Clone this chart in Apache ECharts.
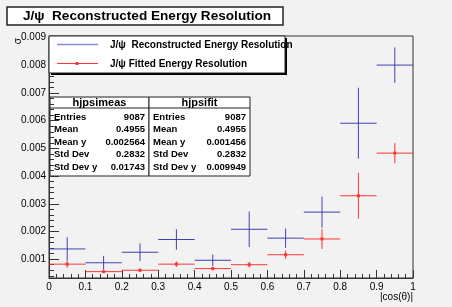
<!DOCTYPE html>
<html>
<head>
<meta charset="utf-8">
<script src="https://cdn.jsdelivr.net/npm/echarts@6/dist/echarts.min.js"></script>
<style>
  html, body { margin: 0; padding: 0; background: #f2f2f2; }
  #main { width: 452px; height: 307px; }
</style>
</head>
<body>
<div id="main"></div>
<script>
// bins in |cos(theta)|
const binLow = [0, 0.1, 0.2, 0.3, 0.4, 0.5, 0.6, 0.7, 0.8, 0.9];
const binWidth = 0.1;

// reconstructed (hjpsimeas)
const measVal = [0.00137, 0.00087, 0.00125, 0.00171, 0.00096, 0.00208, 0.00176, 0.0027, 0.00591, 0.00801];
const measErr = [0.00042, 0.00025, 0.00032, 0.00037, 0.00021, 0.00064, 0.00035, 0.00056, 0.00128, 0.00064];

// fitted (hjpsifit)
const fitVal = [0.00082, 0.00055, 0.0006, 0.00082, 0.00066, 0.0008, 0.00116, 0.00173, 0.00329, 0.00483];
const fitErr = [0.00013, 0.00005, 0.00006, 0.0001, 0.00007, 0.0001, 0.00015, 0.00036, 0.00083, 0.00037];

const yTicks = [0.001, 0.002, 0.003, 0.004, 0.005, 0.006, 0.007, 0.008, 0.009];
const xTickLabels = ["0", "0.1", "0.2", "0.3", "0.4", "0.5", "0.6", "0.7", "0.8", "0.9", "1"];

const statLabels = ["Entries", "Mean", "Mean y", "Std Dev", "Std Dev y"];
const measStats = ["9087", "0.4955", "0.002564", "0.2832", "0.01743"];
const fitStats = ["9087", "0.4955", "0.001456", "0.2832", "0.009949"];

const blue = "#4040b4";
const red = "#ff3535";
const font = "'Liberation Sans', Arial, sans-serif";

// minor y ticks, 5 per 0.001
const yMinor = [];
for (let i = 2; i <= 45; i++) {
  if (i % 5 !== 0) yMinor.push(+(i * 0.0002).toFixed(4));
}

function toData(vals, errs) {
  return vals.map((v, i) => [binLow[i], binLow[i] + binWidth, v, errs[i]]);
}

function crossRenderer(color, marker) {
  return function (params, api) {
    const lo = api.value(0), hi = api.value(1), y = api.value(2), e = api.value(3);
    const xc = (lo + hi) / 2;
    const pl = api.coord([lo, y]), pr = api.coord([hi, y]);
    const pt = api.coord([xc, y + e]), pb = api.coord([xc, y - e]);
    const st = { stroke: color, lineWidth: 1 };
    const children = [
      { type: "line", shape: { x1: pl[0], y1: pl[1], x2: pr[0], y2: pr[1] }, style: st },
      { type: "line", shape: { x1: pt[0], y1: pt[1], x2: pb[0], y2: pb[1] }, style: st }
    ];
    if (marker) {
      const c = api.coord([xc, y]);
      children.push({ type: "rect", shape: { x: c[0] - 1.5, y: c[1] - 1.5, width: 3, height: 3 }, style: { fill: color } });
    }
    return { type: "group", children: children };
  };
}

// stats box graphic
function statsBox(left, width, name, values) {
  const top = 97, h = 79;
  const els = [
    { type: "rect", shape: { x: left, y: top, width: width, height: h }, style: { fill: "#fff", stroke: "#222", lineWidth: 1 } },
    { type: "line", shape: { x1: left, y1: top + 11, x2: left + width, y2: top + 11 }, style: { stroke: "#222", lineWidth: 1 } },
    { type: "text", style: { x: left + width / 2, y: top + 6, text: name, font: "bold 11px " + font, fill: "#000", textAlign: "center", textVerticalAlign: "middle" } }
  ];
  statLabels.forEach((lab, i) => {
    const yy = top + 20 + i * 12.5;
    els.push({ type: "text", style: { x: left + 4, y: yy, text: lab, font: "bold 9.5px " + font, fill: "#000", textVerticalAlign: "middle" } });
    els.push({ type: "text", style: { x: left + width - 4, y: yy, text: values[i], font: "bold 9.5px " + font, fill: "#000", textAlign: "right", textVerticalAlign: "middle" } });
  });
  return els;
}

const chart = echarts.init(document.getElementById("main"));
const option = {
  backgroundColor: "#f2f2f2",
  animation: false,
  grid: { left: 49, top: 36, width: 364, height: 242, show: true, borderColor: "#333", borderWidth: 1, backgroundColor: "transparent" },
  xAxis: {
    type: "value", min: 0, max: 1, interval: 0.1,
    axisLine: { lineStyle: { color: "#333" } },
    axisTick: { inside: true, length: 8, lineStyle: { color: "#333" } },
    minorTick: { show: true, splitNumber: 5, length: 4, lineStyle: { color: "#333" } },
    splitLine: { show: false },
    axisLabel: { color: "#000", fontFamily: font, fontSize: 10, margin: 4, formatter: (v) => xTickLabels[Math.round(v * 10)] },
    name: "|cos(θ)|", nameLocation: "end", nameGap: 0,
    nameTextStyle: { color: "#000", fontFamily: font, fontSize: 10, align: "right", verticalAlign: "top", padding: [14, 0, 0, 0] }
  },
  yAxis: [
    {
      type: "value", min: 0.00032, max: 0.00906,
      axisLine: { show: true, lineStyle: { color: "#333" } },
      axisTick: { show: true, inside: true, length: 10, customValues: yTicks, lineStyle: { color: "#333" } },
      splitLine: { show: false },
      axisLabel: { color: "#000", fontFamily: font, fontSize: 10, margin: 3, customValues: yTicks, formatter: (v) => v.toFixed(3) }
    },
    {
      type: "value", min: 0.00032, max: 0.00906, position: "left",
      axisLine: { show: false },
      axisTick: { show: true, inside: true, length: 5, customValues: yMinor, lineStyle: { color: "#333" } },
      axisLabel: { show: false },
      splitLine: { show: false }
    }
  ],
  series: [
    { name: "J/ψ  Reconstructed Energy Resolution", type: "custom", renderItem: crossRenderer(blue, false), data: toData(measVal, measErr), encode: { x: [0, 1], y: 2 }, z: 2 },
    { name: "J/ψ Fitted Energy Resolution", type: "custom", renderItem: crossRenderer(red, true), data: toData(fitVal, fitErr), encode: { x: [0, 1], y: 2 }, z: 3 }
  ],
  graphic: [
    // y axis title
    { type: "text", x: 18, y: 38, rotation: Math.PI / 2, style: { x: 0, y: 0, text: "σ", font: "10px " + font, fill: "#000", textAlign: "right", textVerticalAlign: "middle" }, z: 12 },
    // title
    { type: "rect", shape: { x: 7, y: 7, width: 276, height: 18 }, style: { fill: "#fff", stroke: "#222", lineWidth: 1.5 }, z: 10 },
    { type: "text", style: { x: 147, y: 16, text: "J/ψ  Reconstructed Energy Resolution", font: "bold 13.6px " + font, fill: "#000", textAlign: "center", textVerticalAlign: "middle" }, z: 11 },
    // legend
    { type: "rect", shape: { x: 51, y: 38, width: 236, height: 37 }, style: { fill: "#000" }, z: 10 },
    { type: "rect", shape: { x: 49, y: 36, width: 236, height: 37 }, style: { fill: "#fff", stroke: "#222", lineWidth: 1 }, z: 11 },
    { type: "line", shape: { x1: 57, y1: 44.5, x2: 98, y2: 44.5 }, style: { stroke: "#8c8cdc", lineWidth: 1.5 }, z: 12 },
    { type: "text", style: { x: 110, y: 45, text: "J/ψ  Reconstructed Energy Resolution", font: "bold 10px " + font, fill: "#000", textVerticalAlign: "middle" }, z: 12 },
    { type: "line", shape: { x1: 57, y1: 63.5, x2: 98, y2: 63.5 }, style: { stroke: red, lineWidth: 1 }, z: 12 },
    { type: "rect", shape: { x: 75.5, y: 62, width: 3, height: 3 }, style: { fill: red }, z: 12 },
    { type: "text", style: { x: 110, y: 64, text: "J/ψ Fitted Energy Resolution", font: "bold 10px " + font, fill: "#000", textVerticalAlign: "middle" }, z: 12 },
    // stats boxes
    { type: "group", z: 10, children: statsBox(50, 99, "hjpsimeas", measStats) },
    { type: "group", z: 10, children: statsBox(149, 101, "hjpsifit", fitStats) }
  ]
};
chart.setOption(option);
</script>
</body>
</html>
